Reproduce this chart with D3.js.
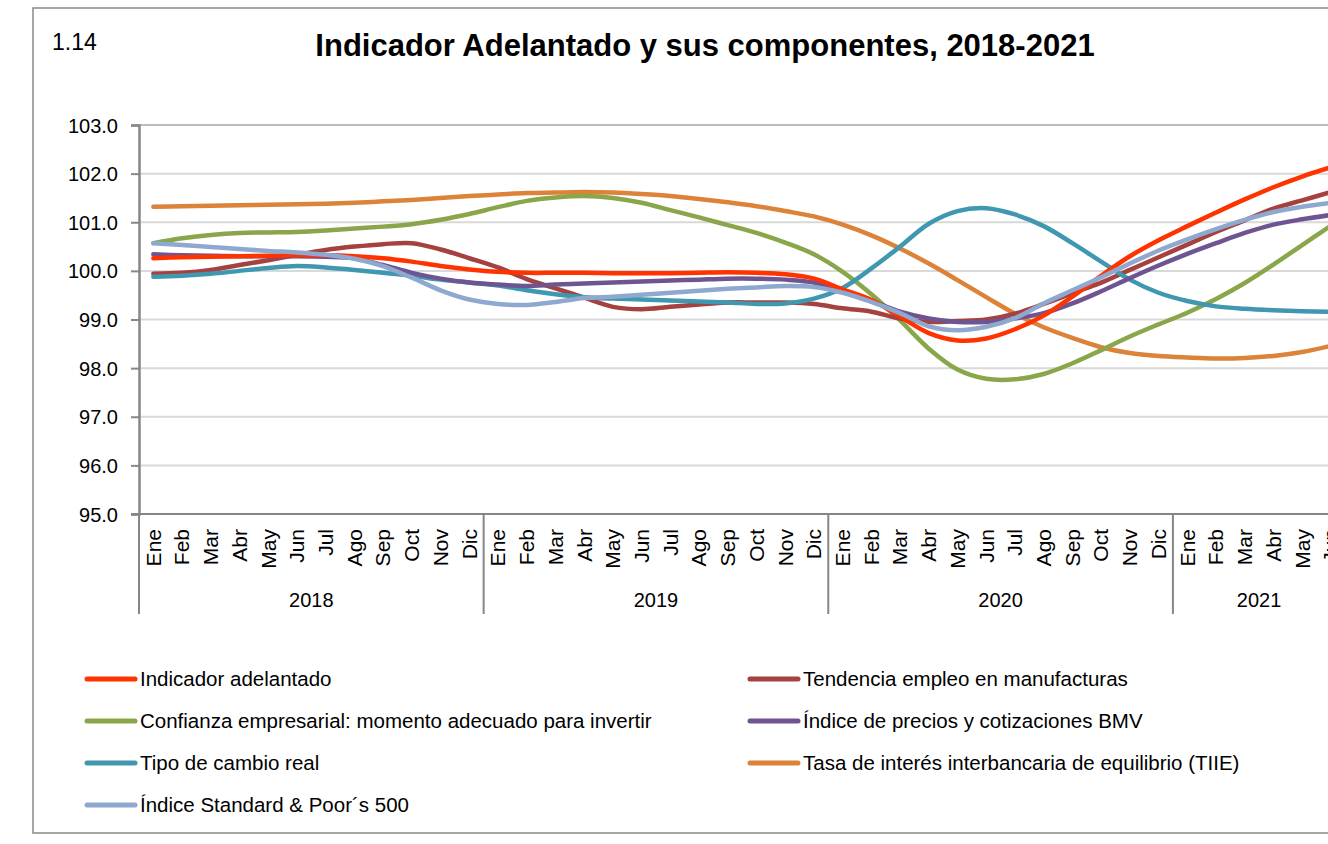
<!DOCTYPE html>
<html>
<head>
<meta charset="utf-8">
<script src="https://cdn.jsdelivr.net/npm/d3@7"></script>
<style>
  html, body { margin: 0; padding: 0; background: #fff; overflow: hidden; }
  svg { display: block; }
</style>
</head>
<body>
<div id="chart"></div>
<script>
// ---------- DATA ----------
const months = ["Ene","Feb","Mar","Abr","May","Jun","Jul","Ago","Sep","Oct","Nov","Dic"];
const years = ["2018","2019","2020","2021"];
const monthsPerYear = [12, 12, 12, 6];
const yTicks = [95, 96, 97, 98, 99, 100, 101, 102, 103];

const indicador = [100.26,100.28,100.29,100.30,100.31,100.32,100.32,100.30,100.26,100.19,100.10,100.03,
  99.98,99.96,99.96,99.96,99.95,99.95,99.95,99.96,99.97,99.96,99.93,99.84,
  99.62,99.40,99.06,98.72,98.57,98.61,98.80,99.08,99.47,99.90,100.30,100.63,
  100.92,101.20,101.47,101.72,101.94,102.13];
const empleo = [99.94,99.96,100.02,100.12,100.22,100.33,100.43,100.50,100.55,100.57,100.44,100.26,
  100.07,99.83,99.64,99.45,99.26,99.21,99.26,99.31,99.35,99.35,99.35,99.32,
  99.23,99.16,99.02,98.95,98.97,99.00,99.12,99.32,99.54,99.76,100.02,100.28,
  100.54,100.80,101.04,101.28,101.45,101.62];
const confianza = [100.57,100.67,100.74,100.78,100.79,100.80,100.83,100.87,100.91,100.96,101.05,101.17,
  101.31,101.44,101.51,101.54,101.50,101.40,101.25,101.10,100.94,100.78,100.58,100.34,
  99.98,99.52,98.98,98.40,97.97,97.78,97.77,97.88,98.10,98.37,98.65,98.90,
  99.14,99.42,99.75,100.13,100.53,100.93];
const bmv = [100.34,100.32,100.31,100.30,100.30,100.30,100.29,100.26,100.12,99.96,99.84,99.76,
  99.72,99.69,99.72,99.74,99.76,99.78,99.80,99.82,99.84,99.84,99.82,99.76,
  99.58,99.38,99.16,99.02,98.95,98.95,99.02,99.13,99.33,99.58,99.85,100.11,
  100.35,100.57,100.78,100.95,101.06,101.15];
const tipoCambio = [99.88,99.90,99.94,100.00,100.06,100.10,100.07,100.02,99.96,99.90,99.82,99.76,
  99.70,99.60,99.52,99.46,99.43,99.41,99.39,99.37,99.35,99.32,99.33,99.43,
  99.65,100.05,100.50,100.97,101.23,101.29,101.16,100.92,100.57,100.19,99.82,99.55,
  99.38,99.27,99.22,99.19,99.17,99.16];
const tiie = [101.32,101.33,101.34,101.35,101.36,101.37,101.38,101.40,101.43,101.46,101.50,101.54,
  101.57,101.60,101.61,101.62,101.61,101.58,101.54,101.48,101.41,101.33,101.23,101.12,
  100.95,100.73,100.46,100.15,99.81,99.46,99.12,98.84,98.62,98.43,98.31,98.25,
  98.22,98.20,98.21,98.25,98.33,98.46];
const sp500 = [100.57,100.53,100.49,100.45,100.41,100.38,100.33,100.25,100.10,99.86,99.60,99.41,
  99.32,99.30,99.36,99.44,99.47,99.51,99.55,99.59,99.63,99.66,99.69,99.67,
  99.55,99.36,99.13,98.86,98.78,98.85,99.03,99.33,99.60,99.87,100.15,100.42,
  100.65,100.86,101.05,101.21,101.32,101.40];

const seriesNames = ["Indicador adelantado","Tendencia empleo en manufacturas",
  "Confianza empresarial: momento adecuado para invertir","Índice de precios y cotizaciones BMV",
  "Tipo de cambio real","Tasa de interés interbancaria de equilibrio (TIIE)","Índice Standard & Poor´s 500"];
const seriesColors = ["#FF3300","#A5413F","#8AA64A","#6E5592","#3F97B0","#DC8239","#8EA8CF"];
const seriesValues = [indicador, empleo, confianza, bmv, tipoCambio, tiie, sp500];
// draw order (back to front)
const drawOrder = [5, 2, 1, 4, 3, 0, 6];

// ---------- BUILD ----------
(function () {
const W = 1328, H = 844;
const FONT = "'Liberation Sans', Arial, sans-serif";
const NARROW = "'Liberation Sans Narrow', 'Arial Narrow', 'Liberation Sans', sans-serif";

const svg = d3.select("#chart").append("svg").attr("width", W).attr("height", H);

// categories
const cats = [];
years.forEach((yr, yi) => {
  for (let m = 0; m < monthsPerYear[yi]; m++) cats.push({key: yr + "-" + m, year: yr, month: months[m]});
});

const plotLeft = 139, plotTop = 125, plotBottom = 514;
const step = 28.72;
const plotRight = plotLeft + step * cats.length;

const x = d3.scaleBand().domain(cats.map(c => c.key)).range([plotLeft, plotRight]).padding(0);
const y = d3.scaleLinear().domain([95, 103]).range([plotBottom, plotTop]);
const cx = k => x(k) + x.bandwidth() / 2;

// outer border
svg.append("rect").attr("x", 33).attr("y", 8).attr("width", 1400).attr("height", 825)
  .attr("fill", "none").attr("stroke", "#898989").attr("stroke-width", 1.5);

// chart number
svg.append("text").attr("x", 52).attr("y", 50).text("1.14")
  .attr("font-family", FONT).attr("font-size", 23).attr("fill", "#000");

// title
svg.append("text").attr("x", 705).attr("y", 56).attr("text-anchor", "middle")
  .text("Indicador Adelantado y sus componentes, 2018-2021")
  .attr("font-family", FONT).attr("font-weight", "bold").attr("font-size", 31).attr("fill", "#000");

// gridlines
svg.append("g").selectAll("line").data(yTicks.filter(t => t !== 95)).join("line")
  .attr("x1", plotLeft).attr("x2", W + 50)
  .attr("y1", d => y(d)).attr("y2", d => y(d))
  .attr("stroke", d => d === 103 ? "#bdbdbd" : "#d9d9d9").attr("stroke-width", 2);

// y axis
const yAxis = d3.axisLeft(y).tickValues(yTicks).tickFormat(d3.format(".1f")).tickSize(8).tickPadding(13);
const gy = svg.append("g").attr("transform", `translate(${plotLeft},0)`).call(yAxis);
gy.select(".domain").attr("stroke", "#868686").attr("stroke-width", 2.5);
gy.selectAll(".tick line").attr("stroke", "#868686").attr("stroke-width", 2);
gy.selectAll(".tick text").attr("font-family", FONT).attr("font-size", 20).attr("fill", "#000").attr("dy", "0.35em");

// x axis
const xAxis = d3.axisBottom(x).tickSize(0).tickFormat(k => cats.find(c => c.key === k).month);
const gx = svg.append("g").attr("transform", `translate(0,${plotBottom})`).call(xAxis);
gx.select(".domain").attr("stroke", "#868686").attr("stroke-width", 2).attr("d", `M${plotLeft - 8},0H${W + 50}`);
gx.selectAll(".tick text")
  .attr("font-family", NARROW).attr("font-size", 21).attr("fill", "#000")
  .attr("text-anchor", "end").attr("transform", "rotate(-90)")
  .attr("x", -15).attr("y", 0).attr("dy", "0.35em");

// year separators & labels
let acc = 0;
const sepIdx = [0];
monthsPerYear.forEach(n => { acc += n; sepIdx.push(acc); });
svg.append("g").selectAll("line").data(sepIdx).join("line")
  .attr("x1", d => plotLeft + d * step).attr("x2", d => plotLeft + d * step)
  .attr("y1", plotBottom).attr("y2", 614)
  .attr("stroke", "#868686").attr("stroke-width", 2);
svg.append("g").selectAll("text").data(years).join("text")
  .attr("x", (d, i) => plotLeft + (sepIdx[i] + sepIdx[i + 1]) / 2 * step)
  .attr("y", 607).attr("text-anchor", "middle").text(d => d)
  .attr("font-family", FONT).attr("font-size", 20).attr("fill", "#000");

// lines
const line = d3.line().x((d, i) => cx(cats[i].key)).y(d => y(d)).curve(d3.curveCatmullRom.alpha(0.5));
svg.append("g").selectAll("path").data(drawOrder).join("path")
  .attr("d", i => line(seriesValues[i]))
  .attr("fill", "none").attr("stroke", i => seriesColors[i])
  .attr("stroke-width", 4.5).attr("stroke-linejoin", "round").attr("stroke-linecap", "round");

// legend
const legendPos = [[85, 679], [748, 679], [85, 721], [748, 721], [85, 763], [748, 763], [85, 805]];
const lg = svg.append("g").selectAll("g").data(seriesNames).join("g")
  .attr("transform", (d, i) => `translate(${legendPos[i][0]},${legendPos[i][1]})`);
lg.append("line").attr("x1", 2).attr("x2", 50).attr("y1", 0).attr("y2", 0)
  .attr("stroke", (d, i) => seriesColors[i]).attr("stroke-width", 5).attr("stroke-linecap", "round");
lg.append("text").attr("x", 55).attr("y", 7).text(d => d)
  .attr("font-family", FONT).attr("font-size", 20.5).attr("fill", "#000");
})();
</script>
</body>
</html>
